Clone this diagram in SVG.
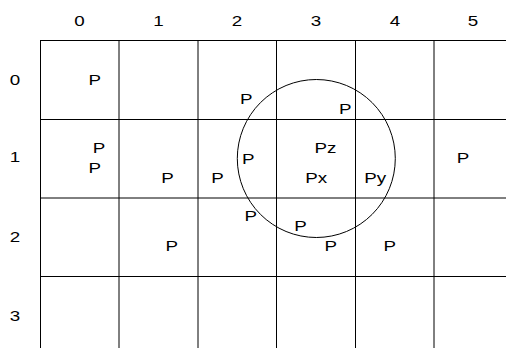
<svg xmlns="http://www.w3.org/2000/svg" width="506" height="349" viewBox="0 0 506 349">
<style>
.g{stroke:#000;stroke-width:1;fill:none}
text{font-family:"Liberation Sans",Arial,sans-serif;font-size:15.4px;fill:#000}
.m{text-anchor:middle}
</style>
<rect width="506" height="349" fill="#fff"/>
<g id="grid" class="g">
<line x1="40.5" y1="40.5" x2="40.5" y2="348"/>
<line x1="119" y1="40.5" x2="119" y2="348"/>
<line x1="198" y1="40.5" x2="198" y2="348"/>
<line x1="276.5" y1="40.5" x2="276.5" y2="348"/>
<line x1="355.5" y1="40.5" x2="355.5" y2="348"/>
<line x1="434" y1="40.5" x2="434" y2="348"/>
<line x1="40" y1="40.5" x2="506" y2="40.5"/>
<line x1="40" y1="119.5" x2="506" y2="119.5"/>
<line x1="40" y1="198" x2="506" y2="198"/>
<line x1="40" y1="276.5" x2="506" y2="276.5"/>
</g>
<g id="circle"><circle class="g" cx="316.3" cy="158.5" r="79"/></g>
<g id="col-labels">
<text class="m" transform="translate(79.5,26) scale(1.22,1)">0</text>
<text class="m" transform="translate(158.5,26) scale(1.22,1)">1</text>
<text class="m" transform="translate(237,26) scale(1.22,1)">2</text>
<text class="m" transform="translate(316,26) scale(1.22,1)">3</text>
<text class="m" transform="translate(395,26) scale(1.22,1)">4</text>
<text class="m" transform="translate(473,26) scale(1.22,1)">5</text>
</g>
<g id="row-labels">
<text class="m" transform="translate(15,85) scale(1.22,1)">0</text>
<text class="m" transform="translate(15,162) scale(1.22,1)">1</text>
<text class="m" transform="translate(15,241.5) scale(1.22,1)">2</text>
<text class="m" transform="translate(15,320.5) scale(1.22,1)">3</text>
</g>
<g id="points">
<text transform="translate(88.6,85) scale(1.22,1)">P</text>
<text transform="translate(240.1,104) scale(1.22,1)">P</text>
<text transform="translate(339.1,114) scale(1.22,1)">P</text>
<text transform="translate(92.8,152.7) scale(1.22,1)">P</text>
<text transform="translate(88.6,172.5) scale(1.22,1)">P</text>
<text transform="translate(161.3,183) scale(1.22,1)">P</text>
<text transform="translate(211.3,183) scale(1.22,1)">P</text>
<text transform="translate(241.9,164) scale(1.22,1)">P</text>
<text transform="translate(314.6,153) scale(1.22,1)">Pz</text>
<text transform="translate(305.3,183) scale(1.22,1)">Px</text>
<text transform="translate(364.3,183) scale(1.22,1)">Py</text>
<text transform="translate(456.8,162.5) scale(1.22,1)">P</text>
<text transform="translate(244.6,221) scale(1.22,1)">P</text>
<text transform="translate(294.3,231) scale(1.22,1)">P</text>
<text transform="translate(324.6,251) scale(1.22,1)">P</text>
<text transform="translate(383.6,251) scale(1.22,1)">P</text>
<text transform="translate(165.6,251) scale(1.22,1)">P</text>
</g>
</svg>
